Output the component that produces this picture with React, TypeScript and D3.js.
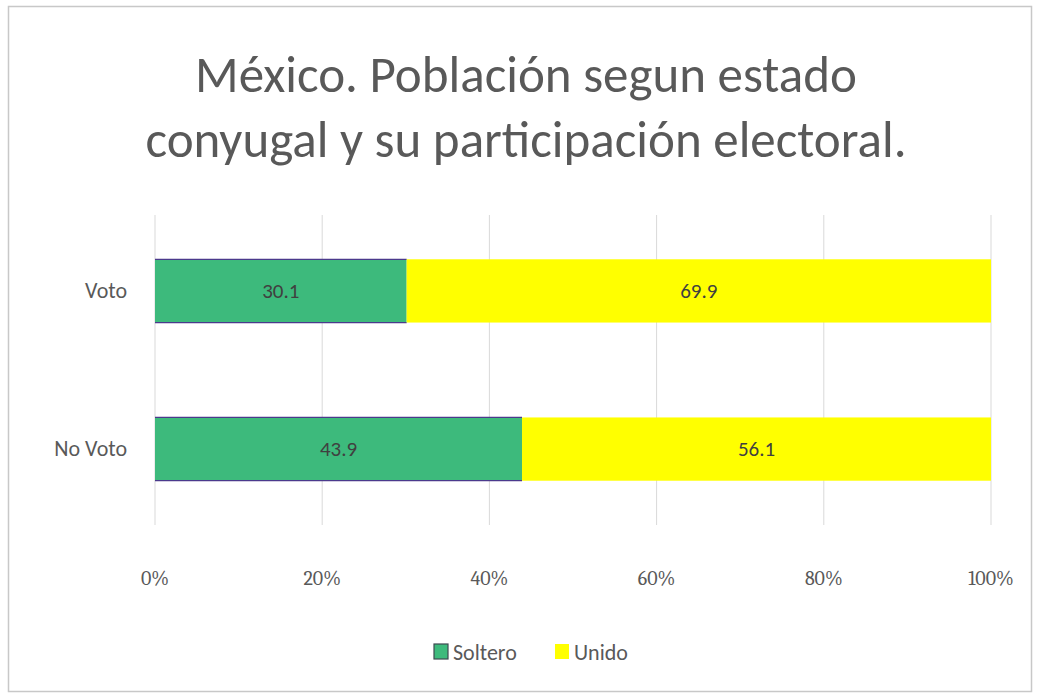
import { useEffect, useRef } from 'react';
import * as d3 from 'd3';

const categories = ['Voto', 'No Voto'];
const soltero = [30.1, 43.9];
const unido = [69.9, 56.1];
const seriesNames = ['Soltero', 'Unido'];
const seriesColors = ['#3dba7c', '#ffff00'];
const tickValues = [0, 0.2, 0.4, 0.6, 0.8, 1];
const titleLines = ['México. Población segun estado', 'conyugal y su participación electoral.'];

const W = 1041;
const H = 694;

export default function App() {
  const svgRef = useRef<SVGSVGElement>(null);

  useEffect(() => {
    if (!svgRef.current) return;
    const svg = d3.select(svgRef.current);
    svg.selectAll('*').remove();

    const sans = 'Calibri, Carlito, "Open Sans", "Noto Sans", sans-serif';
    const serif = 'Cambria, "Liberation Serif", "DejaVu Serif", serif';

    // chart frame
    svg.append('rect')
      .attr('x', 8.5).attr('y', 6.5)
      .attr('width', 1023).attr('height', 685)
      .attr('fill', '#fff')
      .attr('stroke', '#c8c8c8')
      .attr('stroke-width', 1.5);

    // title
    svg.append('g')
      .selectAll('text')
      .data(titleLines)
      .join('text')
      .attr('x', 526)
      .attr('y', (_, i) => 92 + i * 65)
      .attr('text-anchor', 'middle')
      .attr('font-family', sans)
      .attr('font-size', 51)
      .attr('fill', '#595959')
      .text(d => d);

    const x = d3.scaleLinear().domain([0, 1]).range([155, 991]);
    const y = d3.scaleBand().domain(categories).range([215, 525]).paddingInner(0.6).paddingOuter(0.28);

    // gridlines
    svg.append('g')
      .selectAll('line')
      .data(tickValues)
      .join('line')
      .attr('x1', d => x(d)).attr('x2', d => x(d))
      .attr('y1', 215).attr('y2', 525)
      .attr('stroke', '#d9d9d9')
      .attr('stroke-width', 1);

    const rows = categories.map((c, i) => ({ cat: c, values: [soltero[i], unido[i]] }));

    rows.forEach(row => {
      let acc = 0;
      row.values.forEach((v, si) => {
        const x0 = x(acc / 100);
        const x1 = x((acc + v) / 100);
        const y0 = y(row.cat)!;
        svg.append('rect')
          .attr('x', x0).attr('y', y0)
          .attr('width', x1 - x0).attr('height', y.bandwidth())
          .attr('fill', seriesColors[si]);
        if (si === 0) {
          // thin dark edge on the green bars
          [y0, y0 + y.bandwidth()].forEach(yy => {
            svg.append('line')
              .attr('x1', x0).attr('x2', x1)
              .attr('y1', yy).attr('y2', yy)
              .attr('stroke', '#4b3a8c')
              .attr('stroke-width', 1.2);
          });
        }
        svg.append('text')
          .attr('x', (x0 + x1) / 2)
          .attr('y', y0 + y.bandwidth() / 2 + 7)
          .attr('text-anchor', 'middle')
          .attr('font-family', sans)
          .attr('font-size', 21)
          .attr('fill', '#404040')
          .text(v.toFixed(1));
        acc += v;
      });
    });

    // category labels
    svg.append('g')
      .selectAll('text')
      .data(categories)
      .join('text')
      .attr('x', 127)
      .attr('y', d => y(d)! + y.bandwidth() / 2 + 7)
      .attr('text-anchor', 'end')
      .attr('font-family', sans)
      .attr('font-size', 22)
      .attr('fill', '#595959')
      .text(d => d);

    // x tick labels
    const fmt = d3.format('.0%');
    svg.append('g')
      .selectAll('text')
      .data(tickValues)
      .join('text')
      .attr('x', d => x(d))
      .attr('y', 585)
      .attr('text-anchor', 'middle')
      .attr('font-family', serif)
      .attr('font-size', 20)
      .attr('fill', '#595959')
      .text(d => fmt(d));

    // legend
    const legend = svg.append('g').attr('transform', 'translate(434,652)');
    const items = [
      { name: seriesNames[0], color: seriesColors[0], x: 0 },
      { name: seriesNames[1], color: seriesColors[1], x: 121 },
    ];
    items.forEach(it => {
      legend.append('rect')
        .attr('x', it.x).attr('y', -8)
        .attr('width', 14).attr('height', 15)
        .attr('fill', it.color)
        .attr('stroke', it.name === 'Soltero' ? '#3d4a50' : 'none')
        .attr('stroke-width', 1.2);
      legend.append('text')
        .attr('x', it.x + 19).attr('y', 8)
        .attr('font-family', sans)
        .attr('font-size', 22)
        .attr('fill', '#595959')
        .text(it.name);
    });
  }, []);

  return (
    <svg
      ref={svgRef}
      width={W}
      height={H}
      style={{ position: 'absolute', left: 0, top: 0, background: '#fff' }}
    />
  );
}
